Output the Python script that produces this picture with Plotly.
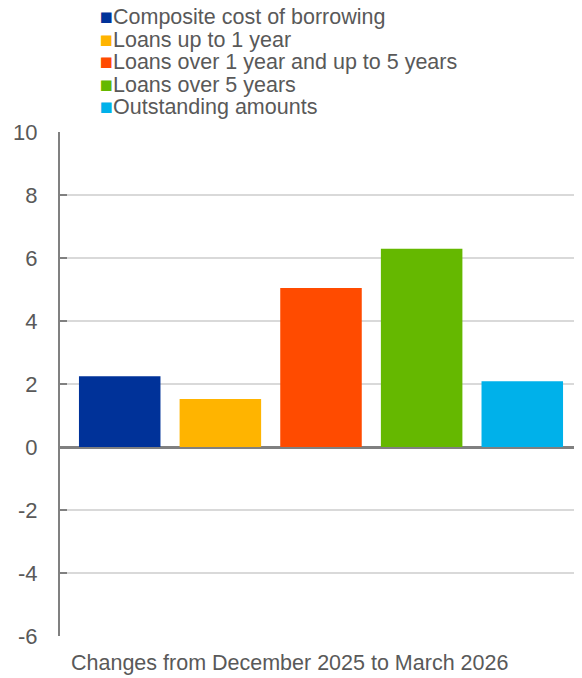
import plotly.graph_objects as go

# data
category = "Changes from December 2025 to March 2026"
series = ["Composite cost of borrowing",
          "Loans up to 1 year",
          "Loans over 1 year and up to 5 years",
          "Loans over 5 years",
          "Outstanding amounts"]
values = [2.25, 1.52, 5.05, 6.29, 2.09]
colors = ["#003299", "#FFB400", "#FF4B00", "#65B800", "#00B1EA"]
y_ticks = [-6, -4, -2, 0, 2, 4, 6, 8, 10]

txt = "#595959"
font = "Arial, Liberation Sans, sans-serif"
fs = 21.5

fig = go.Figure()
for name, v, c in zip(series, values, colors):
    fig.add_trace(go.Bar(x=[category], y=[v], name=name, marker_color=c,
                         marker_line_width=0))

# page body has an 8px default margin, so the figure is 8px smaller
fig.update_layout(
    width=574, height=670,
    margin=dict(l=52, r=0, t=124, b=42),
    plot_bgcolor="white", paper_bgcolor="white",
    font=dict(family=font, size=fs, color=txt),
    barmode="group", bargap=0.036, bargroupgap=0.19,
    showlegend=False,
)
fig.update_xaxes(showticklabels=False, showgrid=False, showline=False, ticks="")
fig.update_yaxes(range=[-6, 10], tickvals=y_ticks,
                 ticktext=[str(t) for t in y_ticks],
                 showgrid=True, gridcolor="#d9d9d9", gridwidth=1.5,
                 showline=True, linecolor="#808080", linewidth=2,
                 ticks="inside", ticklen=7, tickwidth=2, tickcolor="#808080",
                 ticklabelstandoff=16,
                 zeroline=True, zerolinecolor="#808080", zerolinewidth=2.5,
                 tickfont=dict(size=22, color=txt))

# legend drawn as text rows with a coloured square
for i, (name, c) in enumerate(zip(series, colors)):
    fig.add_annotation(
        text=f'<span style="color:{c}">■</span>{name}',
        xref="paper", yref="paper", x=0.0727,
        y=1 + (132 - 17.5 - i * 22.4) / 504,
        xanchor="left", yanchor="middle", showarrow=False,
        font=dict(size=fs, color=txt))

fig.add_annotation(text=category, xref="paper", yref="paper",
                   x=0.4406, y=-0.0536, xanchor="center", yanchor="middle",
                   showarrow=False, font=dict(size=fs, color=txt))

fig.write_html("out.html")
